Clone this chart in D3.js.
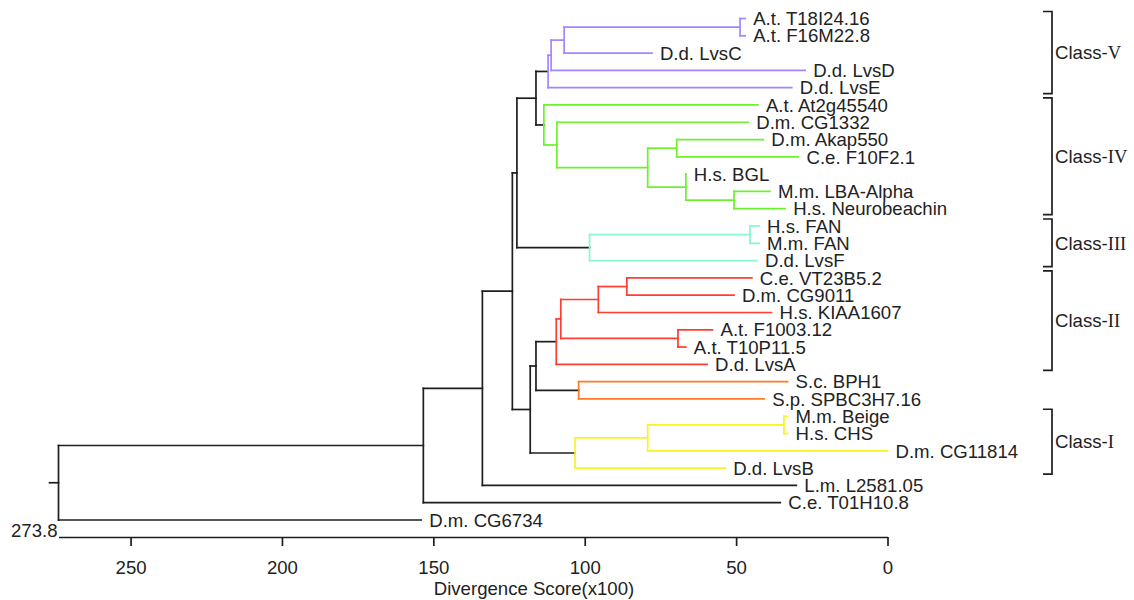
<!DOCTYPE html>
<html>

<head>
    <meta charset="UTF-8">
    <title>dendrogram</title>
    <style>
        body {
            margin: 0;
            background: #fff;
        }

        text {
            font-family: "Liberation Sans", Arial, sans-serif;
            font-size: 18.6px;
            fill: #222;
        }

        .roman {
            font-family: "Liberation Serif", "Times New Roman", serif;
        }
    </style>
</head>

<body>
    <svg id="tree" width="1134" height="600"></svg>

    <script src="https://cdnjs.cloudflare.com/ajax/libs/d3/7.8.5/d3.min.js"></script>

    <script>
        // leaves, top to bottom, and the score where each leaf line ends
        var leafNames = [
            "A.t. T18I24.16", "A.t. F16M22.8", "D.d. LvsC", "D.d. LvsD", "D.d. LvsE",
            "A.t. At2g45540", "D.m. CG1332", "D.m. Akap550", "C.e. F10F2.1", "H.s. BGL",
            "M.m. LBA-Alpha", "H.s. Neurobeachin", "H.s. FAN", "M.m. FAN", "D.d. LvsF",
            "C.e. VT23B5.2", "D.m. CG9011", "H.s. KIAA1607", "A.t. F1003.12", "A.t. T10P11.5",
            "D.d. LvsA", "S.c. BPH1", "S.p. SPBC3H7.16", "M.m. Beige", "H.s. CHS",
            "D.m. CG11814", "D.d. LvsB", "L.m. L2581.05", "C.e. T01H10.8", "D.m. CG6734"
        ];
        var leafEnd = [
            47.0, 47.0, 77.8, 27.2, 31.6,
            42.8, 46.0, 41.0, 29.4, 66.6,
            38.8, 33.8, 42.4, 42.4, 43.1,
            44.8, 50.7, 38.3, 57.8, 66.6,
            59.6, 33.0, 40.7, 33.0, 33.0,
            0.0, 53.6, 30.1, 35.4, 154.0
        ];

        // merges: [node, upper child, lower child, score]
        var merges = [
            ["v1", "A.t. T18I24.16", "A.t. F16M22.8", 48.7],
            ["v2", "v1", "D.d. LvsC", 106.8],
            ["v3", "v2", "D.d. LvsD", 111.1],
            ["v4", "v3", "D.d. LvsE", 112.1],
            ["g6", "M.m. LBA-Alpha", "H.s. Neurobeachin", 50.7],
            ["g5", "H.s. BGL", "g6", 66.6],
            ["g4", "D.m. Akap550", "C.e. F10F2.1", 69.6],
            ["g3", "g4", "g5", 79.2],
            ["g2", "D.m. CG1332", "g3", 109.2],
            ["g1", "A.t. At2g45540", "g2", 113.5],
            ["d", "v4", "g1", 116.1],
            ["c2", "H.s. FAN", "M.m. FAN", 45.4],
            ["c1", "c2", "D.d. LvsF", 98.4],
            ["e", "d", "c1", 122.4],
            ["r1", "C.e. VT23B5.2", "D.m. CG9011", 86.1],
            ["r2", "r1", "H.s. KIAA1607", 95.5],
            ["rf", "A.t. F1003.12", "A.t. T10P11.5", 69.2],
            ["r3", "r2", "rf", 107.9],
            ["r4", "r3", "D.d. LvsA", 109.4],
            ["o1", "S.c. BPH1", "S.p. SPBC3H7.16", 102.0],
            ["j", "r4", "o1", 116.1],
            ["y3", "M.m. Beige", "H.s. CHS", 34.2],
            ["y2", "y3", "D.m. CG11814", 79.2],
            ["y1", "y2", "D.d. LvsB", 103.2],
            ["k", "j", "y1", 118.0],
            ["f", "e", "k", 123.9],
            ["h", "f", "L.m. L2581.05", 133.8],
            ["i", "h", "C.e. T01H10.8", 153.3],
            ["root", "i", "D.m. CG6734", 273.8]
        ];

        // coloured clades and the node each one starts at
        var cladeRoots = ["v4", "g1", "c1", "r4", "o1", "y1"];
        var cladeColors = ["#a585ff", "#6cf22c", "#86f7d2", "#ff3d33", "#ff7a26", "#f7f22a"];

        // class brackets: name, numeral, first leaf, last leaf
        var classNames = ["Class-", "Class-", "Class-", "Class-", "Class-"];
        var classNumerals = ["V", "IV", "III", "II", "I"];
        var classFirst = ["A.t. T18I24.16", "A.t. At2g45540", "H.s. FAN", "C.e. VT23B5.2", "M.m. Beige"];
        var classLast = ["D.d. LvsE", "H.s. Neurobeachin", "D.d. LvsF", "D.d. LvsA", "D.d. LvsB"];

        var axisTicks = [250, 200, 150, 100, 50, 0];
        var maxScore = 273.8;
        var axisTitle = "Divergence Score(x100)";

        var svg = d3.select("#tree");

        var x = d3.scaleLinear().domain([maxScore, 0]).range([58.5, 887.5]);
        var y = d3.scaleLinear().domain([0, leafNames.length - 1]).range([18.5, 520]);

        // build the hierarchy from the merge list
        var rows = [{ id: "root", parentId: null }];
        merges.forEach(m => {
            rows.push({ id: m[1], parentId: m[0] });
            rows.push({ id: m[2], parentId: m[0] });
        });
        var score = {};
        merges.forEach(m => score[m[0]] = m[3]);
        leafNames.forEach((n, i) => score[n] = leafEnd[i]);

        var root = d3.stratify().id(d => d.id).parentId(d => d.parentId)(rows);

        root.eachAfter(n => {
            n.px = x(score[n.id]);
            if (n.children) {
                n.py = (n.children[0].py + n.children[n.children.length - 1].py) / 2;
            } else {
                n.py = y(leafNames.indexOf(n.id));
            }
        });

        root.each(n => {
            var ci = cladeRoots.indexOf(n.id);
            if (ci >= 0) n.color = cladeColors[ci];
            else n.color = n.parent ? n.parent.color : "#1e1e1e";
        });

        var lines = svg.append("g")
            .attr("fill", "none")
            .attr("stroke-width", 1.7)
            .attr("stroke-linecap", "square");

        // horizontal branches
        lines.selectAll("line.h")
            .data(root.descendants().filter(n => n.parent))
            .join("line")
            .attr("class", "h")
            .attr("stroke", d => d.parent.color)
            .attr("x1", d => d.parent.px)
            .attr("x2", d => d.px)
            .attr("y1", d => d.py)
            .attr("y2", d => d.py);

        // vertical connectors
        lines.selectAll("line.v")
            .data(root.descendants().filter(n => n.children))
            .join("line")
            .attr("class", "v")
            .attr("stroke", d => d.color)
            .attr("x1", d => d.px)
            .attr("x2", d => d.px)
            .attr("y1", d => d.children[0].py)
            .attr("y2", d => d.children[d.children.length - 1].py);

        // root stub
        lines.append("line")
            .attr("stroke", "#1e1e1e")
            .attr("x1", root.px - 9)
            .attr("x2", root.px)
            .attr("y1", root.py)
            .attr("y2", root.py);

        // leaf labels
        svg.append("g")
            .selectAll("text")
            .data(root.leaves())
            .join("text")
            .attr("x", d => d.px + 8)
            .attr("y", d => d.py)
            .attr("dy", "0.36em")
            .text(d => d.id);

        // class brackets
        var brackets = svg.append("g");
        classNames.forEach((c, i) => {
            var y0 = y(leafNames.indexOf(classFirst[i])) - 7;
            var y1 = y(leafNames.indexOf(classLast[i])) + 6;
            brackets.append("path")
                .attr("fill", "none")
                .attr("stroke", "#1e1e1e")
                .attr("stroke-width", 1.7)
                .attr("d", "M1043," + y0 + "H1052V" + y1 + "H1043");
            var t = brackets.append("text")
                .attr("x", 1055)
                .attr("y", (y0 + y1) / 2)
                .attr("dy", "0.36em");
            t.append("tspan").text(c);
            t.append("tspan").attr("class", "roman").text(classNumerals[i]);
        });

        // axis
        var axisY = 537;
        var axis = svg.append("g")
            .attr("transform", "translate(0," + axisY + ")")
            .call(d3.axisBottom(x).tickValues(axisTicks).tickSize(9).tickSizeOuter(0).tickPadding(15));
        axis.select(".domain").attr("stroke", "#1e1e1e").attr("stroke-width", 1.7);
        axis.selectAll(".tick line").attr("stroke", "#1e1e1e").attr("stroke-width", 1.7);
        axis.selectAll(".tick text")
            .style("font-size", "18.6px")
            .attr("fill", "#222");
        axis.attr("font-size", null).attr("font-family", null);

        svg.append("text")
            .attr("x", x(maxScore) - 1)
            .attr("y", axisY)
            .attr("text-anchor", "end")
            .text(maxScore);

        svg.append("text")
            .attr("x", 534)
            .attr("y", 595)
            .attr("text-anchor", "middle")
            .text(axisTitle);
    </script>

</body>

</html>
